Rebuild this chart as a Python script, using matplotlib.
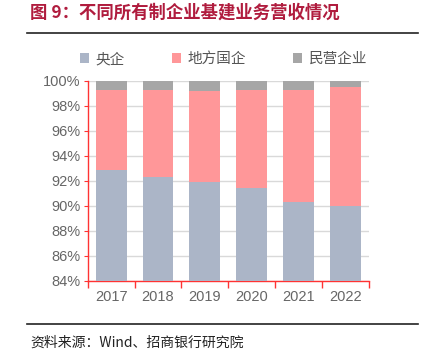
import matplotlib
matplotlib.use('Agg')
import matplotlib.pyplot as plt
from matplotlib.ticker import FuncFormatter, FixedLocator
from matplotlib.lines import Line2D

plt.rcParams['font.family'] = ['Noto Sans CJK SC', 'DejaVu Sans']

years = ['2017', '2018', '2019', '2020', '2021', '2022']
central = [92.9, 92.3, 91.9, 91.4, 90.3, 90.0]
local = [6.4, 6.95, 7.3, 7.9, 9.0, 9.5]
private = [0.7, 0.75, 0.8, 0.7, 0.7, 0.5]
series_names = ['央企', '地方国企', '民营企业']
colors = ['#abb5c7', '#ff9799', '#a6a6a6']

fig = plt.figure(figsize=(4.22, 3.56), dpi=100)
ax = fig.add_axes([0.208, 0.2115, 0.666, 0.5615])

x = list(range(len(years)))
bottom2 = [c + l for c, l in zip(central, local)]
ax.bar(x, central, width=0.66, color=colors[0], label=series_names[0], zorder=3)
ax.bar(x, local, width=0.66, bottom=central, color=colors[1], label=series_names[1], zorder=3)
ax.bar(x, private, width=0.66, bottom=bottom2, color=colors[2], label=series_names[2], zorder=3)

ax.set_ylim(84, 100)
ax.set_xlim(-0.5, 5.5)
ax.set_yticks(range(84, 101, 2))
ax.yaxis.set_major_formatter(FuncFormatter(lambda v, p: f'{v:.0f}%'))
ax.set_xticks(x)
ax.set_xticklabels(years, family=['Liberation Sans', 'DejaVu Sans'])
for lbl in ax.get_yticklabels():
    lbl.set_family(['Liberation Sans', 'DejaVu Sans'])
ax.xaxis.set_minor_locator(FixedLocator([i - 0.5 for i in range(len(years) + 1)]))
ax.tick_params(axis='x', which='major', length=0, labelsize=10.5, labelcolor='#666666', pad=7)
ax.tick_params(axis='x', which='minor', length=5, color='#ff3333', width=1)
ax.tick_params(axis='y', length=3, color='#ff3333', labelsize=10.5, labelcolor='#666666', pad=2)

ax.grid(axis='y', color='#d9d9d9', linewidth=1, zorder=0)
for side in ['top', 'right']:
    ax.spines[side].set_visible(False)
for side in ['left', 'bottom']:
    ax.spines[side].set_color('#ff3333')
    ax.spines[side].set_linewidth(1)

fig.legend(loc='center', bbox_to_anchor=(0.53, 0.834), ncol=3, frameon=False,
           fontsize=10.5, labelcolor='#555555', handlelength=0.6, handleheight=0.6,
           columnspacing=3.2, handletextpad=0.5)

fig.text(0.072, 0.965, '图 9：不同所有制企业基建业务营收情况', fontsize=12.5, fontweight='bold',
         color='#b01c3e', va='center', ha='left')
fig.add_artist(Line2D([0.064, 0.99], [0.907, 0.907], color='#222222', linewidth=1.2))
fig.add_artist(Line2D([0.064, 0.99], [0.09, 0.09], color='#222222', linewidth=1.2))
fig.text(0.072, 0.036, '资料来源：Wind、招商银行研究院', fontsize=10, color='#222222',
         va='center', ha='left')

fig.savefig('out.png', dpi=100)
